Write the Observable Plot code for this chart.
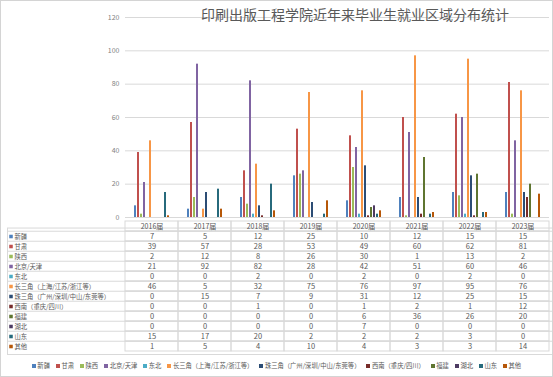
<!DOCTYPE html>
<html><head><meta charset="utf-8">
<script src="https://cdn.jsdelivr.net/npm/d3@7"></script>
<script src="https://cdn.jsdelivr.net/npm/@observablehq/plot@0.6"></script>
<style>
html,body{margin:0;padding:0;background:#fff;}
#root{position:relative;width:553px;height:377px;overflow:hidden;font-family:"Noto Sans CJK SC","Noto Sans",sans-serif;background:#fff}
#chart,#table{position:absolute;left:0;}
#chart{top:0}
#table{top:217px}
#title{position:absolute;top:6px;left:355px;transform:translateX(-50%);font-size:14px;color:#595959;white-space:nowrap;line-height:16px}
#legend{position:absolute;top:361px;left:0;width:553px;display:flex;justify-content:center;gap:6px;font-size:6.3px;color:#595959;line-height:9px;white-space:nowrap}
#legend i{display:inline-block;width:4px;height:4px;margin-right:1.5px;vertical-align:0px}
#border{position:absolute;left:0;top:0;width:553px;height:377px;box-sizing:border-box;border:1px solid #d4d4d4;pointer-events:none}
</style></head>
<body><div id="root"><div id="chart"></div><div id="table"></div><div id="title">印刷出版工程学院近年来毕业生就业区域分布统计</div><div id="legend"></div><div id="border"></div></div>
<script>
const years = ["2016届","2017届","2018届","2019届","2020届","2021届","2022届","2023届"];
const regions = ["新疆","甘肃","陕西","北京/天津","东北","长三角（上海/江苏/浙江等）","珠三角（广州/深圳/中山/东莞等）","西南（重庆/四川）","福建","湖北","山东","其他"];
const colors = ["#4f81bd","#c0504d","#9bbb59","#8064a2","#4bacc6","#f79646","#2c4d75","#772c2a","#5f7530","#4d3b62","#276a7c","#b65708"];
const xinjiang = [7,5,12,25,10,12,15,15];
const gansu = [39,57,28,53,49,60,62,81];
const shaanxi = [2,12,8,26,30,1,13,2];
const beijingTianjin = [21,92,82,28,42,51,60,46];
const dongbei = [0,0,2,0,2,0,2,0];
const changsanjiao = [46,5,32,75,76,97,95,76];
const zhusanjiao = [0,15,7,9,31,12,25,15];
const xinan = [0,0,1,0,1,2,1,12];
const fujian = [0,0,0,0,6,36,26,20];
const hubei = [0,0,0,0,7,0,0,0];
const shandong = [15,17,20,2,2,2,3,0];
const qita = [1,5,4,10,4,3,3,14];
const yTicks = [0,20,40,60,80,100,120];

const series = [xinjiang,gansu,shaanxi,beijingTianjin,dongbei,changsanjiao,zhusanjiao,xinan,fujian,hubei,shandong,qita];
const data = regions.flatMap((r,i)=>series[i].map((v,j)=>({region:r, year:years[j], value:v})));
const font = '"Noto Sans CJK SC","Noto Sans",sans-serif';
const grid = "#d9d9d9";

const chart = Plot.plot({
  width:553, height:224, marginTop:17, marginBottom:7, marginLeft:121, marginRight:1,
  style:{fontSize:"7px", color:"#7f7f7f", fontFamily:font, background:"transparent"},
  fx:{domain:years, padding:0, axis:null},
  x:{domain:regions, paddingInner:0.25, paddingOuter:1, axis:null},
  y:{domain:[0,120], ticks:yTicks, tickSize:0, tickPadding:6, label:null},
  color:{domain:regions, range:colors},
  marks:[
    Plot.gridY(yTicks, {stroke:grid, strokeOpacity:1}),
    Plot.barY(data, {fx:"year", x:"region", y:"value", fill:"region"})
  ]
});
document.getElementById("chart").appendChild(chart);

const rows = ["header", ...regions];
const tableH = 138, rowH = (tableH-1)/rows.length;
const gridCells = rows.flatMap(r=>years.map(y=>({row:r, year:y})));
const table = Plot.plot({
  width:553, height:tableH, marginTop:0, marginBottom:1, marginLeft:121, marginRight:1,
  style:{fontSize:"7.5px", color:"#595959", fontFamily:font, background:"transparent"},
  x:{domain:years, padding:0, axis:null},
  y:{domain:rows, padding:0, axis:null},
  color:{domain:regions, range:colors},
  marks:[
    Plot.cell(gridCells, {x:"year", y:"row", fill:"none", stroke:grid, inset:0}),
    Plot.ruleY(regions, {y:d=>d, dy:-rowH/2, insetLeft:-114, stroke:grid}),
    Plot.frame({insetLeft:-114, insetTop:rowH, stroke:grid}),
    Plot.text(years, {x:d=>d, y:()=>"header", text:d=>d, fill:"#595959", fontSize:7}),
    Plot.text(data, {x:"year", y:"region", text:d=>String(d.value), fill:"#595959"}),
    Plot.dot(regions, {y:d=>d, frameAnchor:"left", dx:-110.5, symbol:"square", r:2, fill:d=>d}),
    Plot.text(regions, {y:d=>d, text:d=>d, frameAnchor:"left", dx:-107, textAnchor:"start", fill:"#595959", fontSize:6.3})
  ]
});
document.getElementById("table").appendChild(table);

document.getElementById("legend").innerHTML = regions.map((r,i)=>`<span><i style="background:${colors[i]}"></i>${r}</span>`).join("");
</script></body></html>
